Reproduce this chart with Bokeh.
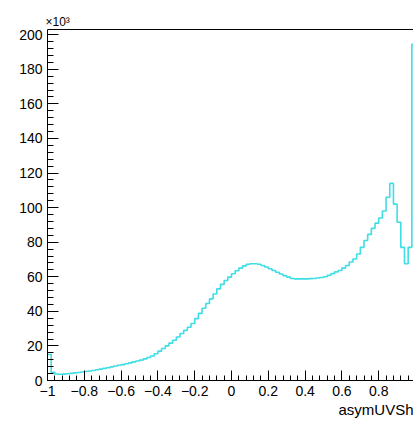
import numpy as np
from bokeh.plotting import figure
from bokeh.models import Range1d, LinearAxis, FixedTicker, Title
from bokeh.embed import file_html
from bokeh.resources import INLINE

# asymUVShower: entries per bin (in units of 10^3), 100 bins over [-1, 1]
counts_k = [
    15.0, 4.8, 3.8, 3.6, 3.7, 3.9, 4.1, 4.4, 4.6, 4.9,
    5.2, 5.5, 5.8, 6.2, 6.6, 7.0, 7.4, 7.9, 8.4, 8.8,
    9.2, 9.7, 10.2, 10.8, 11.3, 11.8, 12.5, 13.3, 14.2, 15.5,
    17.0, 18.5, 20.0, 21.6, 23.3, 25.2, 27.2, 29.0, 30.8, 33.0,
    35.8, 38.8, 41.8, 44.5, 47.2, 50.0, 53.0, 55.6, 57.8, 59.8,
    61.7, 63.5, 65.0, 66.3, 67.2, 67.5, 67.5, 67.2, 66.5, 65.6,
    64.6, 63.6, 62.6, 61.6, 60.6, 59.8, 59.0, 58.8, 58.8, 58.8,
    58.8, 58.9, 59.0, 59.3, 59.6, 60.0, 60.8, 61.8, 62.8, 63.6,
    65.0, 66.5, 68.5, 70.3, 73.2, 77.0, 81.0, 84.5, 88.0, 91.0,
    94.0, 98.0, 106.0, 114.0, 102.0, 91.5, 77.0, 67.5, 77.0, 194.5,
]
x_lo, x_hi, n_bins = -1.0, 1.0, 100

x_major = [-1.0, -0.8, -0.6, -0.4, -0.2, 0.0, 0.2, 0.4, 0.6, 0.8, 1.0]
x_major_labels = ["\u22121", "\u22120.8", "\u22120.6", "\u22120.4", "\u22120.2",
                  "0", "0.2", "0.4", "0.6", "0.8", "1"]
y_major = [0, 20, 40, 60, 80, 100, 120, 140, 160, 180, 200]
y_major_labels = ["0", "20", "40", "60", "80", "100", "120", "140", "160", "180", "200"]

x_title = "asymUVSh"
y_scale_text = "\u00d710\u00b3"

FONT = "Liberation Sans"
LINE_COLOR = "#3fdde4"

edges = np.linspace(x_lo, x_hi, n_bins + 1)
step_y = list(counts_k) + [counts_k[-1]]

p = figure(
    width=413, height=425,
    x_range=Range1d(-1.0, 0.989), y_range=Range1d(0, 203),
    output_backend="svg", toolbar_location=None,
    min_border_left=47, min_border_right=0,
    min_border_top=29, min_border_bottom=45,
    background_fill_color="white", border_fill_color="white",
)
p.outline_line_color = None
p.grid.visible = False

p.step(x=edges, y=step_y, mode="after", line_color=LINE_COLOR, line_width=1.6)

# x axis: ticks pointing into the frame
xa = p.xaxis[0]
xa.ticker = FixedTicker(ticks=x_major,
                        minor_ticks=[round(-1 + 0.04 * i, 2) for i in range(51)])
xa.major_label_overrides = {v: s for v, s in zip(x_major, x_major_labels)}
xa.major_tick_in, xa.major_tick_out = 10, 0
xa.minor_tick_in, xa.minor_tick_out = 5, 0
xa.major_label_standoff = 5

# y axis
ya = p.yaxis[0]
ya.ticker = FixedTicker(ticks=y_major, minor_ticks=list(range(0, 204, 4)))
ya.major_label_overrides = {v: s for v, s in zip(y_major, y_major_labels)}
ya.major_tick_in, ya.major_tick_out = 11, 0
ya.minor_tick_in, ya.minor_tick_out = 6, 0
ya.major_label_standoff = 5

for ax in (xa, ya):
    ax.axis_line_color = "black"
    ax.axis_line_width = 1
    ax.major_tick_line_color = "black"
    ax.minor_tick_line_color = "black"
    ax.major_label_text_font = FONT
    ax.major_label_text_font_size = "14px"
    ax.major_label_text_color = "black"

# top edge of the frame
top = LinearAxis(ticker=FixedTicker(ticks=[]), axis_line_color="black",
                 major_tick_line_color=None, minor_tick_line_color=None,
                 major_label_text_font_size="0px")
p.add_layout(top, "above")

# axis title, right-aligned at the end of the x axis
p.add_layout(Title(text=x_title, align="right", text_font=FONT,
                   text_font_size="15px", text_font_style="normal",
                   text_color="black", standoff=0), "below")
# power-of-ten multiplier for the y axis
p.add_layout(Title(text=y_scale_text, align="left", text_font=FONT,
                   text_font_size="12px", text_font_style="normal",
                   text_color="black", offset=-2, standoff=1), "above")

open("out.html", "w").write(file_html(p, INLINE))
